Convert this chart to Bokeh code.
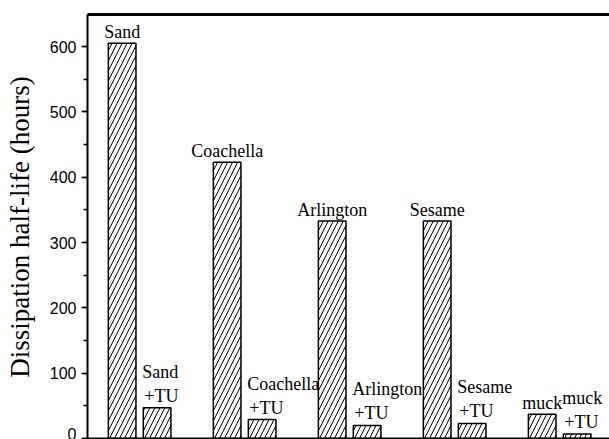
from bokeh.plotting import figure
from bokeh.models import ColumnDataSource, Range1d, LinearAxis, Span, SingleIntervalTicker, FixedTicker
from bokeh.core.properties import value
from bokeh.embed import file_html
from bokeh.resources import INLINE

soils = ["Sand", "Coachella", "Arlington", "Sesame", "muck"]
half_life = [605, 423, 333, 333, 37]
half_life_tu = [47, 29, 20, 23, 7]
tu_label = "+TU"
y_ticks = [0, 100, 200, 300, 400, 500, 600]

bar_w = 0.263
x_main = [i + 0.33 for i in range(len(soils))]
x_tu = [i + 0.663 for i in range(len(soils))]

src_main = ColumnDataSource(dict(x=x_main, top=half_life, name=soils))
src_tu = ColumnDataSource(dict(x=x_tu, xl=[v - bar_w / 2 for v in x_tu], top=half_life_tu,
                               name=soils, tu=[tu_label] * len(soils)))

p = figure(width=609, height=439, output_backend="svg", toolbar_location=None,
           x_range=Range1d(0, 4.971), y_range=Range1d(-1.5, 649),
           x_axis_location=None, min_border_left=87, min_border_right=0,
           min_border_top=14, min_border_bottom=0)
p.outline_line_color = None
p.xgrid.visible = False
p.ygrid.visible = False
p.background_fill_color = "white"
p.border_fill_color = "white"

common = dict(width=bar_w, bottom=0, fill_color="white", line_color="black", line_width=1.5,
              hatch_pattern="/", hatch_color="black", hatch_scale=10, hatch_weight=1)
p.vbar(x="x", top="top", source=src_main, **common)
p.vbar(x="x", top="top", source=src_tu, **common)

font = value("Liberation Serif")
p.text(x="x", y="top", text="name", source=src_main, text_font=font, text_font_size="18px",
       text_align="center", text_baseline="alphabetic", y_offset=-11, text_color="black")
p.text(x="xl", y="top", text="tu", source=src_tu, text_font=font, text_font_size="18px",
       text_align="left", text_baseline="alphabetic", y_offset=-12, x_offset=1, text_color="black")
p.text(x="xl", y="top", text="name", source=src_tu, text_font=font, text_font_size="18px",
       text_align="left", text_baseline="alphabetic", y_offset=-36, x_offset=-1, text_color="black")

ya = p.yaxis[0]
ya.ticker = SingleIntervalTicker(interval=100, num_minor_ticks=2)
ya.axis_label = "Dissipation half-life (hours)"
ya.axis_label_text_font = "Liberation Serif"
ya.axis_label_text_font_size = "27px"
ya.axis_label_text_font_style = "normal"
ya.axis_label_text_color = "black"
ya.axis_label_standoff = 12
ya.major_label_text_font = "Liberation Sans"
ya.major_label_text_font_size = "16px"
ya.major_label_standoff = 5
ya.major_tick_in = 0
ya.major_tick_out = 6
ya.minor_tick_in = 0
ya.minor_tick_out = 4
ya.axis_line_width = 2
ya.major_tick_line_width = 1.5
ya.minor_tick_line_width = 1.5
ya.major_label_text_color = "black"

top = LinearAxis(ticker=FixedTicker(ticks=[]), major_tick_line_color=None,
                 minor_tick_line_color=None, axis_line_width=3)
p.add_layout(top, "above")

p.add_layout(Span(location=0, dimension="width", line_color="black", line_width=2))

open("out.html", "w").write(file_html(p, INLINE))
